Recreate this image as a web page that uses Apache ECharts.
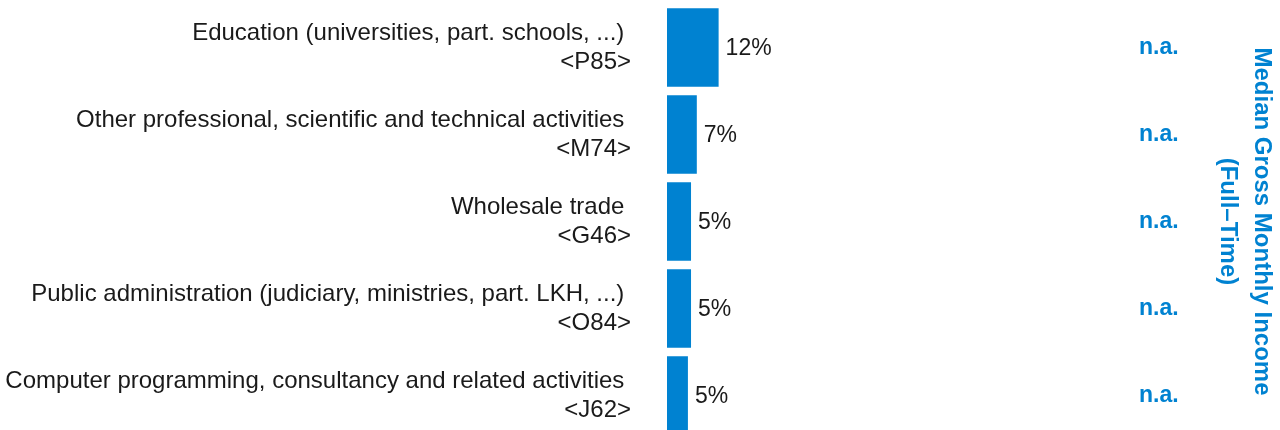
<!DOCTYPE html>
<html>
<head>
<meta charset="utf-8">
<script src="https://cdn.jsdelivr.net/npm/echarts@6/dist/echarts.min.js"></script>
<style>
html,body{margin:0;padding:0;background:#fff;}
#c{width:1280px;height:430px;}
</style>
</head>
<body>
<div id="c"></div>
<script>
const categories = [
  "Education (universities, part. schools, ...) \n<P85>",
  "Other professional, scientific and technical activities \n<M74>",
  "Wholesale trade \n<G46>",
  "Public administration (judiciary, ministries, part. LKH, ...) \n<O84>",
  "Computer programming, consultancy and related activities \n<J62>"
];
const shares = [11.6, 6.7, 5.4, 5.4, 4.7];
const incomeLabels = ["n.a.", "n.a.", "n.a.", "n.a.", "n.a."];
const incomeTitle = "Median Gross Monthly Income\n(Full\u2013Time)";

const BLUE = "#0082D1";
const FONT = "Liberation Sans, Arial, Helvetica, sans-serif";

const chart = echarts.init(document.getElementById('c'), null, {renderer: 'canvas'});
chart.setOption({
  animation: false,
  backgroundColor: '#ffffff',
  grid: {left: 667, top: 4, width: 445, height: 435, outerBoundsMode: 'none', containLabel: false},
  xAxis: {
    type: 'value', min: 0, max: 100, show: false
  },
  yAxis: [
    {
      type: 'category', data: categories, inverse: true, position: 'left',
      axisLine: {show: false}, axisTick: {show: false}, splitLine: {show: false},
      axisLabel: {
        margin: 36, fontSize: 24, lineHeight: 29, color: '#1a1a1a',
        fontFamily: FONT, align: 'right', padding: [2, 0, 0, 0]
      }
    },
    {
      type: 'category', data: categories, inverse: true, position: 'right',
      axisLine: {show: false}, axisTick: {show: false}, splitLine: {show: false},
      axisLabel: {
        margin: 27, fontSize: 23, fontWeight: 'bold', color: BLUE, fontFamily: FONT,
        formatter: (v, i) => incomeLabels[i]
      },
      name: incomeTitle, nameLocation: 'middle', nameRotate: -90, nameGap: 99,
      nameTextStyle: {
        fontSize: 24, fontWeight: 'bold', color: BLUE, fontFamily: FONT,
        lineHeight: 34, align: 'center', verticalAlign: 'bottom'
      }
    }
  ],
  series: [{
    type: 'bar', data: shares, yAxisIndex: 0,
    barCategoryGap: '9.5%',
    itemStyle: {color: BLUE},
    label: {
      show: true, position: 'right', distance: 7, offset: [0, 1],
      fontSize: 23, color: '#1a1a1a', fontFamily: FONT,
      formatter: p => Math.round(p.value) + '%'
    }
  }]
});
</script>
</body>
</html>
